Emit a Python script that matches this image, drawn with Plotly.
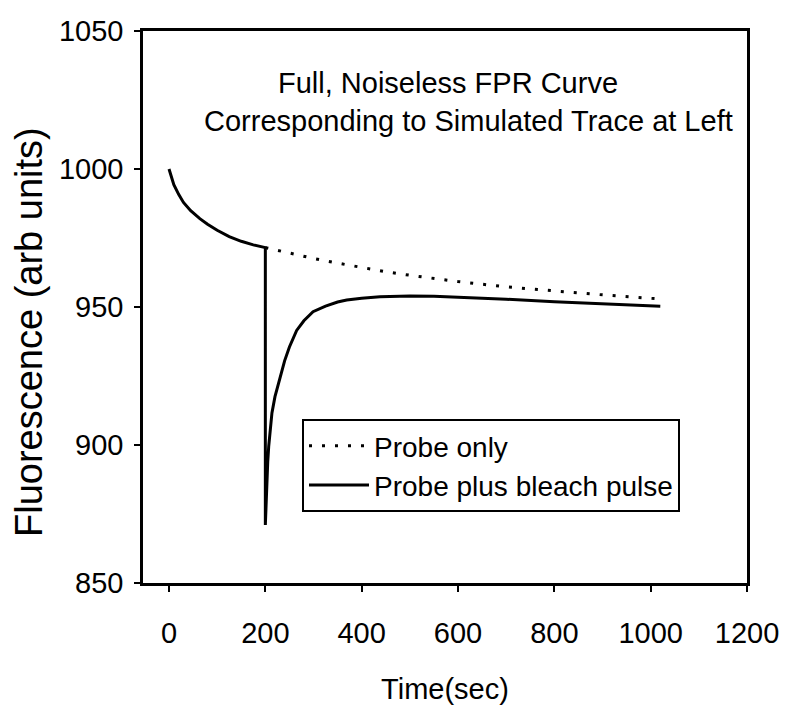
import plotly.graph_objects as go

# ---- data ----
t_probe = [200, 250, 300, 350, 400, 450, 500, 600, 700, 800, 900, 1020]
f_probe = [971.5, 969.5, 967.6, 965.9, 964.3, 962.8, 961.5, 959.2, 957.3, 955.8, 954.4, 952.9]

t_bleach = [0, 5, 10, 20, 30, 45, 64, 80, 100, 125, 150, 175, 200,
            200, 201, 202, 203.5, 205, 207, 209.5, 213.7, 220, 230, 240, 250,
            265, 280, 299, 325, 350, 369, 400, 438, 500, 550, 600, 700, 800, 900, 1020]
f_bleach = [1000, 996.8, 994.3, 990.8, 987.9, 984.9, 982, 980, 977.8, 975.5, 973.8, 972.5, 971.5,
            871, 877, 883, 889, 894, 899.5, 905, 911.6, 917.5, 924.5, 930.5, 935.5,
            941.5, 945, 948.3, 950.3, 951.8, 952.5, 953.2, 953.7, 954.0, 953.9, 953.6, 952.8, 951.9, 951.2, 950.3]

x_ticks = [0, 200, 400, 600, 800, 1000, 1200]
y_ticks = [850, 900, 950, 1000, 1050]

title_line1 = "Full, Noiseless FPR Curve"
title_line2 = "Corresponding to Simulated Trace at Left"

FONT = "Liberation Sans, Arial, sans-serif"

# page body has an 8px margin; figure sized so page = 789x719
OFF = 8
FIG_W, FIG_H = 789 - 2 * OFF, 719 - 2 * OFF
# plot-area pixel geometry (reference, window coords)
L, R, T, B = 143, 747, 31, 583
W, H = R - L, B - T

fig = go.Figure()
fig.add_trace(go.Scatter(x=t_probe, y=f_probe, mode="lines", name="Probe only",
                         line=dict(color="black", width=3, dash="3px,10px")))
fig.add_trace(go.Scatter(x=t_bleach, y=f_bleach, mode="lines", name="Probe plus bleach pulse",
                         line=dict(color="black", width=3)))

fig.update_layout(
    width=FIG_W, height=FIG_H,
    margin=dict(l=L - OFF, r=FIG_W - (R - OFF), t=T - OFF, b=FIG_H - (B - OFF), autoexpand=False),
    paper_bgcolor="white", plot_bgcolor="white",
    font=dict(family=FONT, color="black", size=29),
    showlegend=True,
    legend=dict(x=(302 - L) / W, y=(B - 419) / H, xanchor="left", yanchor="top",
                bordercolor="black", borderwidth=2, bgcolor="white",
                font=dict(family=FONT, size=28), itemwidth=60,
                tracegroupgap=0),
    xaxis=dict(range=[-54, 1200], tickvals=x_ticks, ticktext=[str(v) for v in x_ticks],
               showline=True, linecolor="black", linewidth=2.5, mirror=True,
               ticks="outside", ticklen=6, tickwidth=2, tickcolor="black",
               showgrid=False, zeroline=False, automargin=False,
               tickfont=dict(family=FONT, size=29), ticklabelstandoff=16,
               title=dict(text="Time(sec)", font=dict(family=FONT, size=29), standoff=32)),
    yaxis=dict(range=[850, 1050], tickvals=y_ticks, ticktext=[str(v) for v in y_ticks],
               showline=True, linecolor="black", linewidth=2.5, mirror=True,
               ticks="outside", ticklen=6, tickwidth=2, tickcolor="black",
               showgrid=False, zeroline=False, automargin=False,
               tickfont=dict(family=FONT, size=29), ticklabelstandoff=5),
    annotations=[
        dict(text=title_line1, xref="paper", yref="paper", x=(448 - L) / W, y=(B - 83) / H,
             xanchor="center", yanchor="middle", showarrow=False,
             font=dict(family=FONT, size=29)),
        dict(text=title_line2, xref="paper", yref="paper", x=(468 - L) / W, y=(B - 121) / H,
             xanchor="center", yanchor="middle", showarrow=False,
             font=dict(family=FONT, size=29)),
        dict(text="Fluorescence (arb units)", xref="paper", yref="paper",
             x=(29 - L) / W, y=(B - 332) / H, textangle=-90,
             xanchor="center", yanchor="middle", showarrow=False,
             font=dict(family=FONT, size=38)),
    ],
)

fig.write_html("out.html")
